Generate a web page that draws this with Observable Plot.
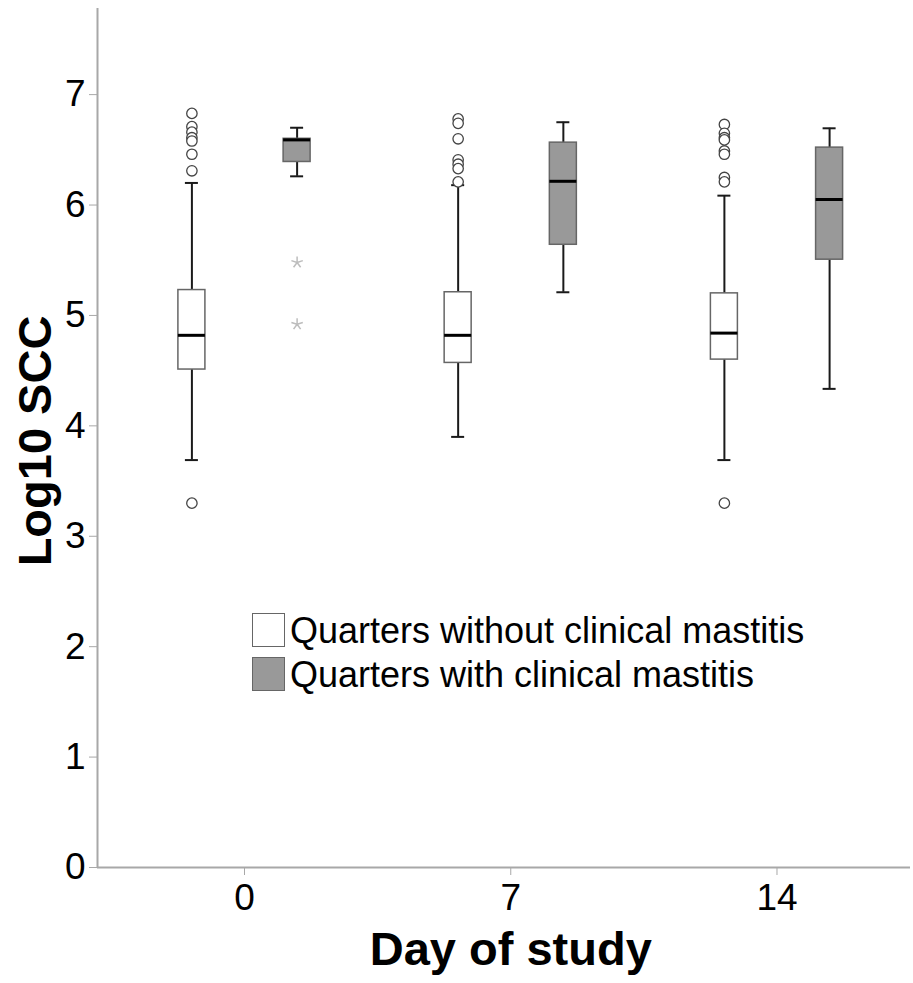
<!DOCTYPE html>
<html>
<head>
<meta charset="utf-8">
<script src="https://cdn.jsdelivr.net/npm/d3@7"></script>
<script src="https://cdn.jsdelivr.net/npm/@observablehq/plot@0.6"></script>
<style>
  html, body { margin: 0; padding: 0; background: #fff; }
  #wrap { position: relative; width: 913px; height: 983px; }
  .leg { position: absolute; left: 252px; height: 36px; display: flex; align-items: flex-start;
         font-family: "Liberation Sans", Arial, sans-serif; font-size: 36px; line-height: 36px; color: #000; white-space: nowrap; }
  .sw { width: 31px; height: 32px; border: 1.5px solid #666; margin-right: 5px; box-sizing: content-box; }
</style>
</head>
<body>
<div id="wrap"></div>
<script>
// ---- data ----
const days = [0, 7, 14];
const groups = ["Quarters without clinical mastitis", "Quarters with clinical mastitis"];
const groupFill = ["#ffffff", "#999999"];

// box statistics per day: [lower whisker, Q1, median, Q3, upper whisker]
const statsWithout = [
  [3.69, 4.51, 4.82, 5.23, 6.20],
  [3.90, 4.57, 4.82, 5.21, 6.18],
  [3.69, 4.60, 4.84, 5.20, 6.085]
];
const statsWith = [
  [6.26, 6.39, 6.59, 6.60, 6.70],
  [5.21, 5.64, 6.215, 6.565, 6.75],
  [4.335, 5.505, 6.05, 6.52, 6.695]
];
// outliers (circles)
const outliersWithout = [
  [6.83, 6.71, 6.66, 6.61, 6.58, 6.46, 6.31, 3.30],
  [6.78, 6.74, 6.60, 6.41, 6.37, 6.33, 6.21],
  [6.73, 6.65, 6.61, 6.59, 6.49, 6.46, 6.25, 6.21, 3.30]
];
const outliersWith = [[], [], []];
// extreme values (stars)
const extremesWithout = [[], [], []];
const extremesWith = [[5.48, 4.92], [], []];

const yTicks = [0, 1, 2, 3, 4, 5, 6, 7];
const xTitle = "Day of study";
const yTitle = "Log10 SCC";

// ---- build tables ----
const groupOffset = [-1.383, 1.383];   // position of each group around its day
const boxHalf = 0.355, capHalf = 0.171;
const statSets = [statsWithout, statsWith];
const outSets = [outliersWithout, outliersWith];
const extSets = [extremesWithout, extremesWith];

const boxes = [];
const outs = [];
const exts = [];
groups.forEach((g, gi) => {
  days.forEach((d, di) => {
    const [lo, q1, med, q3, hi] = statSets[gi][di];
    const pos = d + groupOffset[gi];
    boxes.push({day: d, group: g, gi, pos, lo, q1, med, q3, hi});
    outSets[gi][di].forEach(v => outs.push({pos, v}));
    extSets[gi][di].forEach(v => exts.push({pos, v}));
  });
});

const xDomain = [-3.865, 17.51];
const tickFont = '"Liberation Sans", Arial, sans-serif';
const titleFont = '"Liberation Sans", Arial, sans-serif';

// five-armed asterisk symbol
const star5 = {
  draw(ctx, size) {
    const r = Math.sqrt(size / Math.PI);
    for (let k = 0; k < 5; k++) {
      const a = (2 * Math.PI * k) / 5;
      ctx.moveTo(0, 0);
      ctx.lineTo(r * Math.sin(a), -r * Math.cos(a));
    }
  }
};

const chart = Plot.plot({
  width: 913,
  height: 983,
  marginLeft: 97,
  marginRight: 3,
  marginTop: 8,
  marginBottom: 116,
  style: {background: "#fff", color: "#000", fontFamily: tickFont},
  x: {type: "linear", domain: xDomain},
  y: {domain: [0, 7.78]},
  marks: [
    Plot.ruleY([0], {stroke: "#a8a8a8", strokeWidth: 2}),
    Plot.ruleX([xDomain[0]], {stroke: "#a8a8a8", strokeWidth: 2}),
    Plot.axisY({ticks: yTicks, tickSize: 8, tickPadding: 4, fontSize: 37, stroke: "#a8a8a8", fill: "#000", label: null, fontFamily: tickFont}),
    Plot.axisX({ticks: days, tickFormat: d => String(d), tickSize: 8, tickPadding: 8, fontSize: 37, stroke: "#a8a8a8", fill: "#000", label: null, fontFamily: tickFont}),
    // whiskers
    Plot.ruleX(boxes, {x: "pos", y1: "lo", y2: "q1", stroke: "#1a1a1a", strokeWidth: 2}),
    Plot.ruleX(boxes, {x: "pos", y1: "q3", y2: "hi", stroke: "#1a1a1a", strokeWidth: 2}),
    Plot.ruleY(boxes, {y: "lo", x1: d => d.pos - capHalf, x2: d => d.pos + capHalf, stroke: "#1a1a1a", strokeWidth: 2}),
    Plot.ruleY(boxes, {y: "hi", x1: d => d.pos - capHalf, x2: d => d.pos + capHalf, stroke: "#1a1a1a", strokeWidth: 2}),
    // boxes
    Plot.rect(boxes, {x1: d => d.pos - boxHalf, x2: d => d.pos + boxHalf, y1: "q1", y2: "q3",
      fill: d => groupFill[d.gi], stroke: "#666", strokeWidth: 1.5}),
    // medians
    Plot.ruleY(boxes, {y: "med", x1: d => d.pos - boxHalf, x2: d => d.pos + boxHalf, stroke: "#000", strokeWidth: 3}),
    // outliers
    Plot.dot(outs, {x: "pos", y: "v", r: 5.2, fill: "#fff", stroke: "#444", strokeWidth: 1.3}),
    // extremes
    Plot.dot(exts, {x: "pos", y: "v", r: 6, symbol: star5, fill: "none", stroke: "#bdbdbd", strokeWidth: 1.5}),
    // axis titles
    Plot.text([xTitle], {x: () => d3.mean(days), frameAnchor: "bottom", dy: 97, fontSize: 47, fontWeight: "bold", fontFamily: titleFont, fill: "#000"}),
    Plot.text([yTitle], {frameAnchor: "left", textAnchor: "middle", rotate: -90, dx: -62, dy: 3, fontSize: 47, fontWeight: "bold", fontFamily: titleFont, fill: "#000"})
  ]
});

const wrap = document.getElementById("wrap");
wrap.appendChild(chart);

// legend overlay
const legTops = [613, 657];
groups.forEach((g, i) => {
  const row = document.createElement("div");
  row.className = "leg";
  row.style.top = legTops[i] + "px";
  const sw = document.createElement("div");
  sw.className = "sw";
  sw.style.background = groupFill[i];
  const t = document.createElement("span");
  t.textContent = g;
  row.appendChild(sw);
  row.appendChild(t);
  wrap.appendChild(row);
});
</script>
</body>
</html>
